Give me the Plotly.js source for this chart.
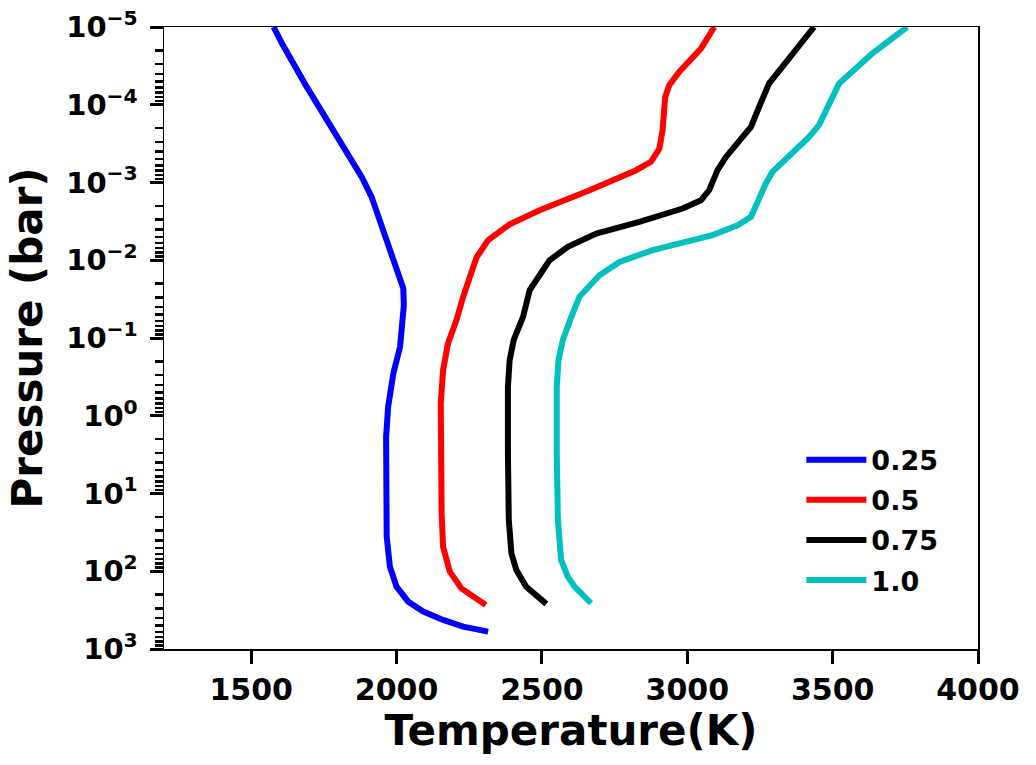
<!DOCTYPE html>
<html>
<head>
<meta charset="utf-8">
<script src="https://cdn.plot.ly/plotly-3.0.1.min.js"></script>
<style>
html,body{margin:0;padding:0;background:#fff;}
#chart{width:1036px;height:765px;}
</style>
</head>
<body>
<div id="chart"></div>
<script>
// Series names (legend labels)
const seriesNames = ["0.25", "0.5", "0.75", "1.0"];
const seriesColors = ["#0000ff", "#ff0000", "#000000", "#00bfbf"];

// Temperature (K) and pressure (bar)
const T_025 = [1577, 1606, 1691, 1783, 1880, 1914, 1954, 2000, 2023, 2025, 2021, 2012, 1989, 1971, 1964, 1964, 1966, 1977, 2000, 2040, 2092, 2160, 2229, 2315];
const P_025 = [1.0e-5, 1.63e-5, 5.90e-5, 2.13e-4, 8.47e-4, 1.53e-3, 4.10e-3, 1.34e-2, 2.30e-2, 3.78e-2, 5.89e-2, 0.130, 0.285, 0.766, 1.86, 8.18, 35.9, 87.3, 158, 246, 330, 423, 515, 597];

const T_05 = [3093, 3047, 2972, 2938, 2924, 2915, 2904, 2875, 2824, 2664, 2492, 2389, 2315, 2275, 2229, 2206, 2177, 2160, 2152, 2152, 2155, 2160, 2183, 2223, 2307];
const P_05 = [1.0e-5, 1.90e-5, 3.78e-5, 5.61e-5, 7.94e-5, 2.13e-4, 3.66e-4, 5.43e-4, 6.95e-4, 1.26e-3, 2.27e-3, 3.44e-3, 5.52e-3, 9.20e-3, 2.95e-2, 5.89e-2, 0.117, 0.259, 0.693, 3.04, 18.0, 48.3, 101, 166, 271];

const T_075 = [3436, 3361, 3281, 3247, 3219, 3133, 3104, 3075, 3047, 2984, 2835, 2687, 2589, 2526, 2458, 2435, 2403, 2389, 2383, 2383, 2386, 2395, 2412, 2446, 2515];
const P_075 = [1.0e-5, 2.20e-5, 5.35e-5, 1.07e-4, 1.93e-4, 4.69e-4, 6.95e-4, 1.26e-3, 1.69e-3, 2.16e-3, 3.21e-3, 4.53e-3, 6.73e-3, 1.0e-2, 2.42e-2, 5.35e-2, 0.106, 0.192, 0.424, 3.04, 21.9, 58.7, 96.2, 158, 263];

const T_10 = [3756, 3636, 3522, 3487, 3453, 3419, 3361, 3293, 3270, 3219, 3173, 3087, 2881, 2767, 2698, 2629, 2601, 2572, 2557, 2551, 2551, 2555, 2566, 2589, 2612, 2669];
const P_10 = [1.0e-5, 2.20e-5, 5.35e-5, 9.66e-5, 1.83e-4, 2.59e-4, 4.24e-4, 7.31e-4, 1.03e-3, 2.77e-3, 3.54e-3, 4.75e-3, 7.41e-3, 1.05e-2, 1.56e-2, 2.95e-2, 5.35e-2, 0.106, 0.192, 0.424, 3.04, 21.9, 71.6, 117, 158, 258];

// Axis ticks
const xTickVals = [1500, 2000, 2500, 3000, 3500, 4000];
const yTickVals = [1e-5, 1e-4, 1e-3, 1e-2, 1e-1, 1e0, 1e1, 1e2, 1e3];
const yTickText = ["10<sup>−5</sup>", "10<sup>−4</sup>", "10<sup>−3</sup>", "10<sup>−2</sup>", "10<sup>−1</sup>", "10<sup>0</sup>", "10<sup>1</sup>", "10<sup>2</sup>", "10<sup>3</sup>"];

const Ts = [T_025, T_05, T_075, T_10];
const Ps = [P_025, P_05, P_075, P_10];

const FONT = "DejaVu Sans, Liberation Sans, sans-serif";

const traces = seriesNames.map((name, i) => ({
  x: Ts[i], y: Ps[i], name: name, legendgroup: name, type: "scatter", mode: "lines",
  line: {color: seriesColors[i], width: 6}
}));

const layout = {
  width: 1036, height: 765,
  margin: {l: 164, r: 58, t: 27, b: 116, pad: 0},
  paper_bgcolor: "#fff", plot_bgcolor: "#fff",
  font: {family: FONT, color: "#000", weight: "bold"},
  showlegend: true,
  legend: {
    x: 0.783, y: 0.343, xanchor: "left", yanchor: "top",
    bgcolor: "rgba(0,0,0,0)", borderwidth: 0,
    font: {family: FONT, size: 27, color: "#000", weight: "bold"},
    itemwidth: 60, tracegroupgap: 2
  },
  xaxis: {
    range: [1200, 4000], tickvals: xTickVals,
    ticks: "outside", ticklen: 13, tickwidth: 3, tickcolor: "#000",
    showline: true, linecolor: "#000", linewidth: 1.5, mirror: true,
    showgrid: false, zeroline: false,
    tickfont: {family: FONT, size: 30, color: "#000", weight: "bold"},
    title: {text: "Temperature(K)", font: {family: FONT, size: 42, color: "#000", weight: "bold"}, standoff: 4},
    automargin: false
  },
  yaxis: {
    type: "log", range: [3, -5],
    tickvals: yTickVals, ticktext: yTickText,
    ticks: "outside", ticklen: 13, tickwidth: 3, tickcolor: "#000",
    minor: {ticks: "outside", ticklen: 8, tickwidth: 2.5, tickcolor: "#000", dtick: "D1", showgrid: false},
    showline: true, linecolor: "#000", linewidth: 1.5, mirror: true,
    showgrid: false, zeroline: false,
    tickfont: {family: FONT, size: 29, color: "#000", weight: "bold"},
    ticklabelstandoff: 6,
    title: {text: "Pressure (bar)", font: {family: FONT, size: 42, color: "#000", weight: "bold"}, standoff: 10},
    automargin: false
  }
};

Plotly.newPlot("chart", traces, layout, {staticPlot: true, displayModeBar: false});
</script>
</body>
</html>
